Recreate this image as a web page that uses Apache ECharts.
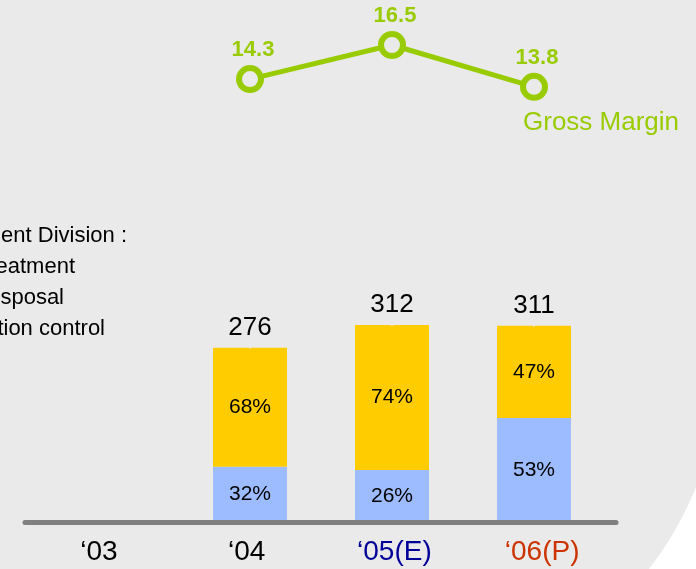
<!DOCTYPE html>
<html><head><meta charset="utf-8">
<script src="https://cdn.jsdelivr.net/npm/echarts@6/dist/echarts.min.js"></script>
<style>html,body{margin:0;padding:0;background:#fff}#c{width:696px;height:569px}</style>
</head><body><div id="c"></div>
<script>
// ---- data ----
const categories = ['‘03', '‘04', '‘05(E)', '‘06(P)'];
const totals = ['-', 276, 312, 311];
const lowerValues = ['-', 88, 83, 165];      // blue segment
const upperValues = ['-', 188, 229, 146];    // yellow segment
const lowerShare = ['', '32%', '26%', '53%'];
const upperShare = ['', '68%', '74%', '47%'];
const grossMargin = ['-', 14.3, 16.5, 13.8];
const lineName = 'Gross Margin';
const noteLines = ['Environment Division :', '- Water treatment', '- Waste disposal', '- Air pollution control'];

// ---- style ----
const FONT = "'Liberation Sans', Arial, Helvetica, sans-serif";
const BG = '#eaeaea';
const GREEN = '#99cc00';
const YELLOW = '#ffcc00';
const BLUE = '#9cbcff';
const labelColors = ['#000000', '#000000', '#000099', '#cc3300'];
const noteRightEdges = [127, 75, 64, 105];

const rich = {};
labelColors.forEach((c, i) => { rich['c' + i] = { color: c, fontSize: 28, fontFamily: FONT }; });

const chart = echarts.init(document.getElementById('c'), null, { renderer: 'canvas' });
chart.setOption({
  backgroundColor: '#ffffff',
  animation: false,
  textStyle: { fontFamily: FONT },
  grid: [
    { left: 25, right: 80, top: 22.5, bottom: 46.5 },
    { left: 37, right: 91, top: 22.5, bottom: 46.5 }
  ],
  xAxis: [
    {
      type: 'category', gridIndex: 0, data: categories, z: 10,
      axisLine: { show: true, lineStyle: { color: '#808080', width: 5 } },
      axisTick: { show: false },
      splitLine: { show: false },
      axisLabel: {
        interval: 0, hideOverlap: false,
        margin: 16, fontSize: 28, fontFamily: FONT,
        formatter: (v, i) => '{c' + i + '|' + v + '}',
        rich: rich
      }
    },
    { type: 'category', gridIndex: 1, data: categories, show: false }
  ],
  yAxis: [
    { type: 'value', gridIndex: 0, min: 0, max: 1, show: false },
    { type: 'value', gridIndex: 1, min: 0, max: 790, show: false },
    { type: 'value', gridIndex: 1, min: -14.3, max: 17.95, show: false }
  ],
  series: [
    {
      type: 'bar', name: 'lower', xAxisIndex: 1, yAxisIndex: 1, stack: 'sales',
      data: lowerValues, barWidth: 74,
      itemStyle: { color: BLUE },
      label: { show: true, position: 'inside', color: '#000', fontSize: 21, fontFamily: FONT,
               formatter: p => lowerShare[p.dataIndex] }
    },
    {
      type: 'bar', name: 'upper', xAxisIndex: 1, yAxisIndex: 1, stack: 'sales',
      data: upperValues, barWidth: 74,
      itemStyle: { color: YELLOW },
      label: { show: true, position: 'inside', color: '#000', fontSize: 21, fontFamily: FONT,
               formatter: p => upperShare[p.dataIndex] }
    },
    {
      type: 'scatter', name: 'total', xAxisIndex: 1, yAxisIndex: 1,
      data: totals, symbolSize: 2, itemStyle: { color: BG },
      label: { show: true, position: 'top', distance: 6, color: '#000000', opacity: 1, fontSize: 26, fontFamily: FONT,
               formatter: p => String(totals[p.dataIndex]) }
    },
    {
      type: 'line', name: lineName, xAxisIndex: 1, yAxisIndex: 2,
      data: grossMargin, z: 5,
      lineStyle: { color: GREEN, width: 5 },
      symbol: 'circle', symbolSize: 22,
      itemStyle: { color: BG, borderColor: GREEN, borderWidth: 6 },
      label: { show: true, position: 'top', distance: 4, offset: [3, 0], color: GREEN,
               fontSize: 22, fontWeight: 'bold', fontFamily: FONT }
    }
  ],
  graphic: [
    { type: 'rect', z: -10, silent: true,
      shape: { x: -50, y: -50, width: 769, height: 745, r: [0, 0, 329, 0] },
      style: { fill: BG } },
    { type: 'text', x: 523, y: 123, z: 10,
      style: { text: lineName, fill: GREEN, fontSize: 26, fontFamily: FONT, align: 'left', verticalAlign: 'middle' } }
  ].concat(noteLines.map((t, i) => ({
      type: 'text', x: noteRightEdges[i], y: 236 + i * 31, z: 10,
      style: { text: t, fill: '#000', fontSize: 22, fontFamily: FONT, align: 'right', verticalAlign: 'middle' }
  })))
});
</script>
</body></html>
